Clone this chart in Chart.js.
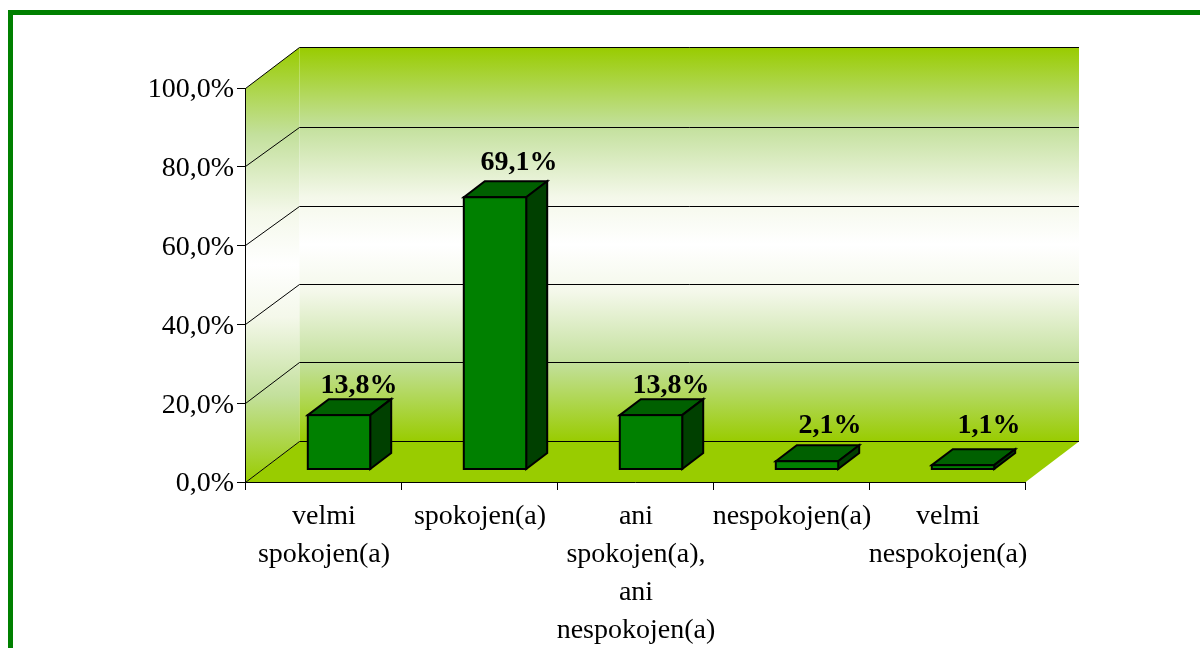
<!DOCTYPE html>
<html>
<head>
<meta charset="utf-8">
<title>Spokojnosť</title>
<script src="https://cdn.jsdelivr.net/npm/chart.js@4/dist/chart.umd.min.js"></script>
<style>
    html, body { margin: 0; padding: 0; background: #fff; overflow: hidden; width: 1200px; height: 648px; }
    #marco { position: absolute; left: 8px; top: 10px; width: 1400px; height: 900px; border: 5px solid #008000; }
    #lienzo { position: absolute; left: 0; top: 0; }
</style>
</head>
<body>
<div id="marco"></div>
<canvas id="lienzo" width="1200" height="648"></canvas>
<script>
// Datos
const categorias = [
    ['velmi', 'spokojen(a)'],
    'spokojen(a)',
    ['ani', 'spokojen(a),', 'ani', 'nespokojen(a)'],
    'nespokojen(a)',
    ['velmi', 'nespokojen(a)']
];
const porcentajes = [13.8, 69.1, 13.8, 2.1, 1.1];
const etiquetasValor = ['13,8%', '69,1%', '13,8%', '2,1%', '1,1%'];
const etiquetasEje = ['0,0%', '20,0%', '40,0%', '60,0%', '80,0%', '100,0%'];

const fuente = "'Liberation Serif', 'Times New Roman', serif";
// Profundidad de la caja 3D y de las barras
const fondoX = 54, fondoY = -41;
const barraX = 16, barraY = -12.5;
const ladoX = 21, ladoY = -16;
// Pequenos ajustes de cada etiqueta de valor (x, y)
const ajusteEtiquetas = [[-1, 5], [3, 0], [-1, 5], [2, -1], [5, -5]];
// Las lineas de cuadricula no caen exactas en la pared del fondo
const ajusteFondo = [0, 0, 1, 2, 2, 0];

function poligono(ctx, puntos, relleno, borde, grosor) {
    ctx.beginPath();
    puntos.forEach(function(p, i) {
        if (i === 0) ctx.moveTo(p[0], p[1]); else ctx.lineTo(p[0], p[1]);
    });
    ctx.closePath();
    if (relleno) { ctx.fillStyle = relleno; ctx.fill(); }
    if (borde) { ctx.strokeStyle = borde; ctx.lineWidth = grosor; ctx.lineJoin = 'miter'; ctx.stroke(); }
}

function degradado(ctx, y0, y1) {
    const g = ctx.createLinearGradient(0, y0, 0, y1);
    g.addColorStop(0, '#99cc00');
    g.addColorStop(0.2, '#c3e09c');
    g.addColorStop(0.38, '#f4f8ea');
    g.addColorStop(0.5, '#ffffff');
    g.addColorStop(0.62, '#f4f8ea');
    g.addColorStop(0.8, '#c3e09c');
    g.addColorStop(1, '#99cc00');
    return g;
}

const pluginCaja = {
    id: 'caja',
    // Paredes, suelo y lineas de cuadricula, por debajo de los ejes
    beforeDraw: function(chart) {
        const ctx = chart.ctx;
        const a = chart.chartArea;
        const escalaY = chart.scales.y;
        const l = a.left + 0.5, r = a.right, t = a.top + 0.5, b = a.bottom + 0.5;
        ctx.save();
        // pared izquierda
        poligono(ctx, [[l, t], [l + fondoX, t + fondoY], [l + fondoX, b + fondoY], [l, b]], degradado(ctx, t + fondoY, b));
        // pared del fondo
        poligono(ctx, [[l + fondoX, t + fondoY], [r + fondoX, t + fondoY], [r + fondoX, b + fondoY], [l + fondoX, b + fondoY]], degradado(ctx, t + fondoY, b + fondoY));
        // suelo
        poligono(ctx, [[l, b], [r, b], [r + fondoX, b + fondoY], [l + fondoX, b + fondoY]], '#99cc00');

        ctx.strokeStyle = '#000';
        ctx.lineWidth = 1;
        ctx.beginPath();
        escalaY.ticks.forEach(function(tick, i) {
            const y = Math.floor(escalaY.getPixelForValue(tick.value)) + 0.5;
            const dy = fondoY + ajusteFondo[i];
            ctx.moveTo(l, y);
            ctx.lineTo(l + fondoX, y + dy);
            ctx.lineTo(r + fondoX, y + dy);
        });
        ctx.stroke();
        ctx.restore();
    },
    beforeDatasetsDraw: function(chart) {
        const ctx = chart.ctx;
        // desplazamos las barras hacia dentro de la caja
        ctx.save();
        ctx.translate(barraX, barraY);
        chart.getDatasetMeta(0).data.forEach(function(barra) {
            const izq = barra.x - barra.width / 2, der = barra.x + barra.width / 2;
            const arr = barra.y, aba = barra.base;
            poligono(ctx, [[izq, arr], [izq + ladoX, arr + ladoY], [der + ladoX, arr + ladoY], [der, arr]], '#006000', '#000', 2);
            poligono(ctx, [[der, arr], [der + ladoX, arr + ladoY], [der + ladoX, aba + ladoY], [der, aba]], '#004000', '#000', 2);
        });
    },
    afterDatasetsDraw: function(chart) {
        const ctx = chart.ctx;
        // contorno de la cara frontal, centrado sobre el borde
        chart.getDatasetMeta(0).data.forEach(function(barra) {
            ctx.strokeStyle = '#000';
            ctx.lineWidth = 2;
            ctx.strokeRect(barra.x - barra.width / 2, barra.y, barra.width, barra.base - barra.y);
        });
        ctx.restore();
        // etiquetas de valor encima de cada barra
        ctx.save();
        ctx.font = 'bold 28px ' + fuente;
        ctx.fillStyle = '#000';
        ctx.textAlign = 'center';
        ctx.textBaseline = 'middle';
        chart.getDatasetMeta(0).data.forEach(function(barra, i) {
            ctx.fillText(etiquetasValor[i], barra.x + barraX + 21 + ajusteEtiquetas[i][0], barra.y + barraY - 34 + ajusteEtiquetas[i][1]);
        });
        ctx.restore();
    }
};

new Chart(document.getElementById('lienzo').getContext('2d'), {
    type: 'bar',
    data: {
        labels: categorias,
        datasets: [{
            data: porcentajes,
            backgroundColor: '#008000',
            borderWidth: 0,
            barPercentage: 1,
            categoryPercentage: 0.4,
            clip: false
        }]
    },
    options: {
        responsive: false,
        animation: false,
        layout: { padding: { top: 88, right: 175, left: 0, bottom: 0 } },
        plugins: {
            legend: { display: false },
            tooltip: { enabled: false },
            title: { display: false }
        },
        scales: {
            x: {
                afterFit: function(escala) { escala.height = 166; },
                grid: { drawOnChartArea: false, tickLength: 8, tickColor: '#000' },
                border: { color: '#000' },
                ticks: {
                    color: '#000',
                    padding: 8,
                    labelOffset: 1,
                    maxRotation: 0,
                    autoSkip: false,
                    font: { family: fuente, size: 28, lineHeight: 1.35 }
                }
            },
            y: {
                min: 0,
                max: 100,
                afterFit: function(escala) { escala.width = 245; },
                grid: { drawOnChartArea: false, tickLength: 8, tickColor: '#000' },
                border: { color: '#000' },
                ticks: {
                    stepSize: 20,
                    color: '#000',
                    padding: 3,
                    labelOffset: 2,
                    font: { family: fuente, size: 28 },
                    callback: function(valor, i) { return etiquetasEje[i]; }
                }
            }
        }
    },
    plugins: [pluginCaja]
});
</script>
</body>
</html>
